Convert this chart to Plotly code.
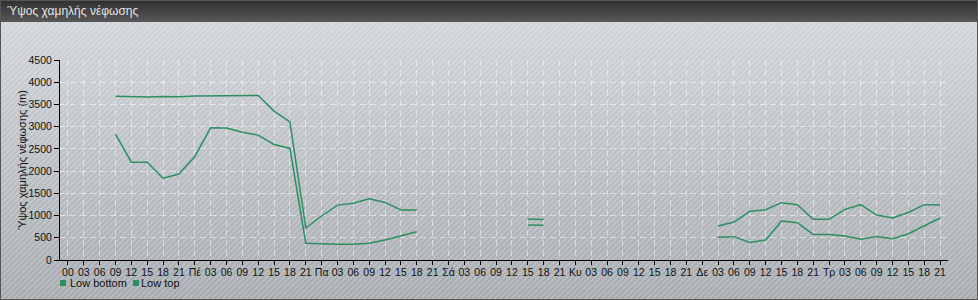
import base64
import plotly.graph_objects as go

# ---- data ----
day_labels = ["00", "Πέ", "Πα", "Σά", "Κυ", "Δε", "Τρ"]
hour_labels = ["03", "06", "09", "12", "15", "18", "21"]
tick_text = []
for d in day_labels:
    tick_text.append(d)
    tick_text.extend(hour_labels)
x_idx = list(range(len(tick_text)))

N = None
low_bottom = [N, N, N, 2830, 2200, 2200, 1840, 1935,
              2330, 2975, 2970, 2875, 2810, 2600, 2510, 375,
              360, 355, 355, 375, 450, 545, 635, N,
              N, N, N, N, N, 790, 780, N,
              N, N, N, N, N, N, N, N,
              N, 510, 525, 395, 450, 875, 840, 575,
              575, 540, 465, 530, 480, 590, 770, 945]
low_top = [N, N, N, 3685, 3675, 3670, 3680, 3675,
           3690, 3695, 3700, 3700, 3700, 3350, 3105, 720,
           990, 1235, 1275, 1380, 1295, 1125, 1125, N,
           N, N, N, N, N, 920, 910, N,
           N, N, N, N, N, N, N, N,
           N, 765, 855, 1095, 1130, 1290, 1245, 915,
           915, 1140, 1245, 1010, 945, 1070, 1245, 1235]
series_names = ["Low bottom", "Low top"]
title_text = "Ύψος χαμηλής νέφωσης"
y_title = "Ύψος χαμηλής νέφωσης (m)"

# ---- style ----
W, H = 978, 300
ML, MR, MT, MB = 60, 30, 60, 40
PW, PH = W - ML - MR, H - MT - MB
LINE = "#2b8f62"
FONT = "Liberation Sans, Arial, sans-serif"

svg = f"""<svg xmlns='http://www.w3.org/2000/svg' width='{W}' height='{H}'>
<defs>
<linearGradient id='g' x1='0' y1='0' x2='0' y2='1'>
<stop offset='0' stop-color='#d4d7db'/><stop offset='1' stop-color='#a5aaaf'/></linearGradient>
<linearGradient id='t' x1='0' y1='0' x2='0' y2='1'>
<stop offset='0' stop-color='#2f2f2f'/><stop offset='1' stop-color='#585858'/></linearGradient>
<pattern id='p' width='4' height='4' patternUnits='userSpaceOnUse' patternTransform='rotate(45)'>
<rect x='0' y='0' width='1.6' height='4' fill='rgba(255,255,255,0.24)'/></pattern>
</defs>
<rect width='{W}' height='{H}' fill='url(#g)'/>
<rect width='{W}' height='{H}' fill='url(#p)'/>
<rect width='{W}' height='22' fill='url(#t)'/>
<rect x='0.5' y='0.5' width='{W-1}' height='{H-1}' fill='none' stroke='#555' stroke-width='1'/>
</svg>"""
src = "data:image/svg+xml;base64," + base64.b64encode(svg.encode("utf-8")).decode()

fig = go.Figure()
for name, vals in zip(series_names, [low_bottom, low_top]):
    fig.add_trace(go.Scatter(x=x_idx, y=vals, mode="lines", name=name,
                             line=dict(color=LINE, width=1.5),
                             connectgaps=False, showlegend=False))

def px_x(p):
    return (p - ML) / PW

def px_y(p):
    return (H - MB - p) / PH

# legend drawn as small squares + labels below the plot
legend_shapes = []
legend_annots = []
leg_pos = [(60, 69), (133, 140)]
for (sq_x, tx), name in zip(leg_pos, series_names):
    legend_shapes.append(dict(type="rect", xref="paper", yref="paper",
                              x0=px_x(sq_x), x1=px_x(sq_x + 6),
                              y0=px_y(286), y1=px_y(280),
                              fillcolor=LINE, line=dict(width=0)))
    legend_annots.append(dict(text=name, xref="paper", yref="paper",
                              x=px_x(tx - 1), y=px_y(283),
                              xanchor="left", yanchor="middle", showarrow=False,
                              font=dict(family=FONT, size=11, color="#111")))

annots = [dict(text=title_text, xref="paper", yref="paper",
               x=px_x(5), y=px_y(11),
               xanchor="left", yanchor="middle", showarrow=False,
               font=dict(family=FONT, size=12, color="#e6e6e6")),
          dict(text=y_title, xref="paper", yref="paper",
               x=px_x(22), y=px_y(160), textangle=-90,
               xanchor="center", yanchor="middle", showarrow=False,
               font=dict(family=FONT, size=11, color="#111"))] + legend_annots

fig.update_layout(
    width=W, height=H,
    margin=dict(l=ML, r=MR, t=MT, b=MB, autoexpand=False),
    paper_bgcolor="#b9bdc1",
    plot_bgcolor="rgba(0,0,0,0)",
    font=dict(family=FONT, size=11, color="#111"),
    images=[dict(source=src, xref="paper", yref="paper",
                 x=-ML / PW, y=1 + MT / PH, sizex=W / PW, sizey=H / PH,
                 xanchor="left", yanchor="top", sizing="stretch", layer="below")],
    shapes=legend_shapes,
    annotations=annots,
    showlegend=False,
)
fig.update_xaxes(range=[-0.5, len(tick_text) - 0.5], tickmode="array",
                 tickvals=x_idx, ticktext=tick_text, tickangle=0,
                 showline=True, linecolor="#000", linewidth=1,
                 ticks="outside", ticklen=4, tickcolor="#000",
                 ticklabelstandoff=-2,
                 showgrid=True, gridcolor="rgba(255,255,255,0.5)", griddash="6px,4px",
                 gridwidth=1, zeroline=False, tickfont=dict(size=10.5))
fig.update_yaxes(range=[0, 4500], dtick=500, tick0=0,
                 showline=True, linecolor="#000", linewidth=1,
                 ticks="outside", ticklen=5, tickcolor="#000",
                 showgrid=True, gridcolor="rgba(255,255,255,0.5)", griddash="6px,4px",
                 gridwidth=1, zeroline=False, tickfont=dict(size=10.5))

fig.write_html("out.html")
